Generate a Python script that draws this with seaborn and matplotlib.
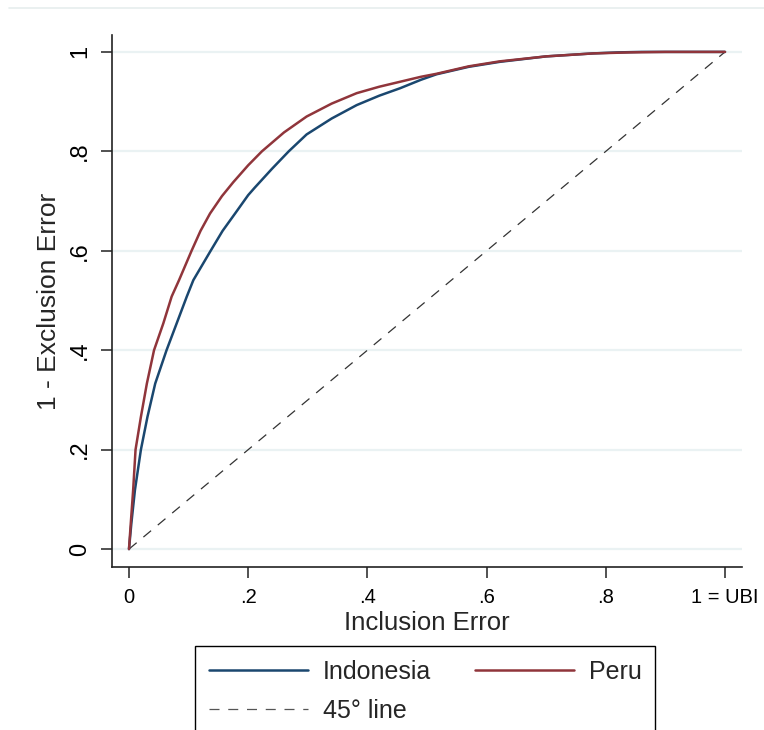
import matplotlib
matplotlib.use("Agg")
import matplotlib.pyplot as plt
from matplotlib.lines import Line2D
import seaborn as sns
import pandas as pd

# Values
indonesia_x = [0.0, 0.004, 0.010, 0.020, 0.031, 0.044, 0.063, 0.080, 0.097, 0.108,
               0.137, 0.157, 0.178, 0.200, 0.211, 0.240, 0.268, 0.298, 0.340,
               0.382, 0.420, 0.455, 0.490, 0.516, 0.570, 0.622, 0.700, 0.779,
               0.820, 0.860, 1.0]
indonesia_y = [0.0, 0.052, 0.119, 0.200, 0.266, 0.333, 0.400, 0.454, 0.508, 0.541,
               0.600, 0.640, 0.675, 0.712, 0.727, 0.765, 0.800, 0.834, 0.866,
               0.893, 0.912, 0.927, 0.944, 0.955, 0.970, 0.980, 0.991, 0.997,
               0.999, 1.0, 1.0]

peru_x = [0.0, 0.003, 0.007, 0.011, 0.020, 0.030, 0.042, 0.0576, 0.0716, 0.084,
          0.105, 0.120, 0.136, 0.156, 0.175, 0.200, 0.223, 0.260, 0.298, 0.340,
          0.382, 0.420, 0.455, 0.490, 0.516, 0.570, 0.622, 0.700, 0.779, 0.840,
          0.900, 1.0]
peru_y = [0.0, 0.052, 0.119, 0.200, 0.266, 0.333, 0.400, 0.454, 0.508, 0.541,
          0.600, 0.640, 0.675, 0.710, 0.738, 0.772, 0.800, 0.838, 0.870, 0.896,
          0.917, 0.930, 0.940, 0.950, 0.956, 0.971, 0.981, 0.991, 0.997, 0.999,
          1.0, 1.0]

diag_x = [0.0, 1.0]
diag_y = [0.0, 1.0]

series_names = ["Indonesia", "Peru"]
series_colors = ["#1a476f", "#90353b"]
diag_label = "45° line"

x_ticks = [0, 0.2, 0.4, 0.6, 0.8, 1.0]
x_ticklabels = ["0", ".2", ".4", ".6", ".8", "1 = UBI"]
y_ticks = [0, 0.2, 0.4, 0.6, 0.8, 1.0]
y_ticklabels = ["0", ".2", ".4", ".6", ".8", "1"]

x_label = "Inclusion Error"
y_label = "1 - Exclusion Error"

sns.set_style("white")
plt.rcParams["font.family"] = ["Liberation Sans", "DejaVu Sans"]

df = pd.concat([
    pd.DataFrame({"x": indonesia_x, "y": indonesia_y, "country": series_names[0]}),
    pd.DataFrame({"x": peru_x, "y": peru_y, "country": series_names[1]}),
], ignore_index=True)

fig = plt.figure(figsize=(7.64, 7.30), dpi=100)
ax = fig.add_axes([112 / 764, 1 - 567 / 730, (742 - 112) / 764, (567 - 35) / 730])

for yt in y_ticks:
    ax.axhline(yt, color="#eaf2f3", lw=1.6, zorder=0)

sns.lineplot(data=df, x="x", y="y", hue="country", palette=series_colors,
             hue_order=series_names, sort=False, estimator=None, lw=1.8,
             ax=ax, legend=False, zorder=3)
ax.plot(diag_x, diag_y, color="#333333", lw=0.9, linestyle=(0, (8, 7)), zorder=2)

ax.set_xlim(-0.0285, 1.0285)
ax.set_ylim(-0.036, 1.034)
ax.set_xticks(x_ticks)
ax.set_xticklabels(x_ticklabels)
ax.set_yticks(y_ticks)
ax.set_yticklabels(y_ticklabels, rotation=90, va="center")
ax.tick_params(axis="both", direction="out", length=8, width=1.2, color="#333333",
               labelcolor="black", pad=7)
ax.tick_params(axis="x", bottom=True, labelsize=14.5)
ax.tick_params(axis="y", left=True, labelsize=17)
for s in ["top", "right"]:
    ax.spines[s].set_visible(False)
for s in ["left", "bottom"]:
    ax.spines[s].set_color("#222222")
    ax.spines[s].set_linewidth(1.2)

ax.set_xlabel(x_label, fontsize=18.5, labelpad=3)
ax.set_ylabel(y_label, fontsize=19, labelpad=6)

handles = [
    Line2D([], [], color=series_colors[0], lw=1.8),
    Line2D([], [], color="#555555", lw=0.9, linestyle=(0, (8, 7))),
    Line2D([], [], color=series_colors[1], lw=1.8),
]
labels = [series_names[0], diag_label, series_names[1]]
leg = fig.legend(handles, labels, ncol=2, loc="upper left",
                 bbox_to_anchor=(195 / 764, 1 - 646 / 730), borderaxespad=0,
                 fontsize=18, handlelength=3.96, handletextpad=0.6,
                 columnspacing=1.75, borderpad=0.55, labelspacing=0.6,
                 frameon=True, fancybox=False, framealpha=1)
leg.get_frame().set_edgecolor("black")
leg.get_frame().set_linewidth(1.0)

fig.add_artist(Line2D([9 / 764, 1.0], [1 - 8 / 730, 1 - 8 / 730],
                      color="#e6eeee", lw=1.2, transform=fig.transFigure))

fig.savefig("out.png", dpi=100)
